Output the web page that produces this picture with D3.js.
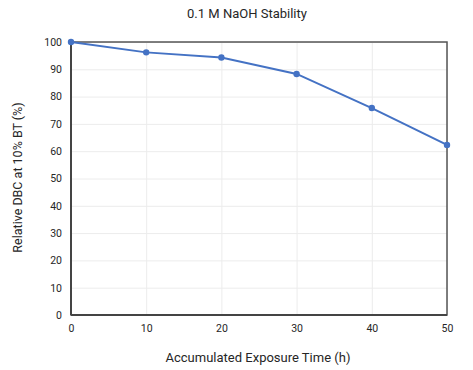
<!DOCTYPE html>
<head>
  <meta charset="utf-8">
  <script src="https://d3js.org/d3.v7.min.js"></script>
  <style>
    body { margin: 0; background: #fff; }
    text { font-family: Roboto, "Noto Sans", sans-serif; fill: #262626; }
  </style>
</head>
<body>
  <script>
    // chart values
    var hours = [0, 10, 20, 30, 40, 50];
    var dbc = [100, 96.2, 94.3, 88.3, 75.8, 62.3];
    var yTicks = [0, 10, 20, 30, 40, 50, 60, 70, 80, 90, 100];
    var xTicks = [0, 10, 20, 30, 40, 50];

    var outerWidth = 473, outerHeight = 370;
    var margin = { top: 42, left: 71, right: 26, bottom: 55 };
    var width = outerWidth - margin.left - margin.right,
      height = outerHeight - margin.top - margin.bottom;

    var xScale = d3.scaleLinear().domain([0, 50]).range([0, width]);
    var yScale = d3.scaleLinear().domain([0, 100]).range([height, 0]);

    var svg = d3.select("body").append("svg")
      .attr("width", outerWidth)
      .attr("height", outerHeight);

    var g = svg.append("g")
      .attr("transform", "translate(" + margin.left + " " + margin.top + ")");

    // gridlines
    g.append("g")
      .call(d3.axisLeft(yScale).tickValues(yTicks).tickSize(-width).tickFormat(""))
      .call(function(s) {
        s.select(".domain").remove();
        s.selectAll("line").attr("stroke", "#ececec");
      });
    g.append("g")
      .attr("transform", "translate(0," + height + ")")
      .call(d3.axisBottom(xScale).tickValues(xTicks).tickSize(-height).tickFormat(""))
      .call(function(s) {
        s.select(".domain").remove();
        s.selectAll("line").attr("stroke", "#ececec");
      });

    // frame
    g.append("rect")
      .attr("width", width).attr("height", height)
      .attr("fill", "none").attr("stroke", "#555").attr("stroke-width", 1.5);

    // tick labels
    g.append("g")
      .call(d3.axisLeft(yScale).tickValues(yTicks).tickSize(0).tickPadding(9))
      .call(function(s) {
        s.select(".domain").remove();
        s.selectAll("text").style("font-size", "10.5px").attr("fill", "#2b2b2b");
      });
    g.append("g")
      .attr("transform", "translate(0," + height + ")")
      .call(d3.axisBottom(xScale).tickValues(xTicks).tickSize(0).tickPadding(10))
      .call(function(s) {
        s.select(".domain").remove();
        s.selectAll("text").style("font-size", "10.5px").attr("fill", "#2b2b2b");
      });

    // left and bottom axis lines a bit darker
    g.append("line").attr("x1", 0).attr("x2", 0).attr("y1", 0).attr("y2", height)
      .attr("stroke", "#444").attr("stroke-width", 2);
    g.append("line").attr("x1", 0).attr("x2", width).attr("y1", height).attr("y2", height)
      .attr("stroke", "#444").attr("stroke-width", 2);

    // data line
    var data = hours.map(function(h, i) { return { x: h, y: dbc[i] }; });
    var line = d3.line()
      .x(function(d) { return xScale(d.x); })
      .y(function(d) { return yScale(d.y); });

    g.append("path").datum(data)
      .attr("d", line)
      .attr("fill", "none")
      .attr("stroke", "#4472c4")
      .attr("stroke-width", 2);

    g.selectAll("circle").data(data).enter().append("circle")
      .attr("cx", function(d) { return xScale(d.x); })
      .attr("cy", function(d) { return yScale(d.y); })
      .attr("r", 3.2)
      .attr("fill", "#4472c4");

    // titles
    svg.append("text")
      .attr("x", 247).attr("y", 18)
      .attr("text-anchor", "middle")
      .style("font-size", "13px")
      .text("0.1 M NaOH Stability");

    svg.append("text")
      .attr("x", margin.left + width / 2 - 1).attr("y", 362)
      .attr("text-anchor", "middle")
      .style("font-size", "13px")
      .text("Accumulated Exposure Time (h)");

    svg.append("text")
      .attr("transform", "translate(22," + (margin.top + height / 2 - 1) + ") rotate(-90)")
      .attr("text-anchor", "middle")
      .style("font-size", "12.5px")
      .text("Relative DBC at 10% BT (%)");
  </script>
</body>
